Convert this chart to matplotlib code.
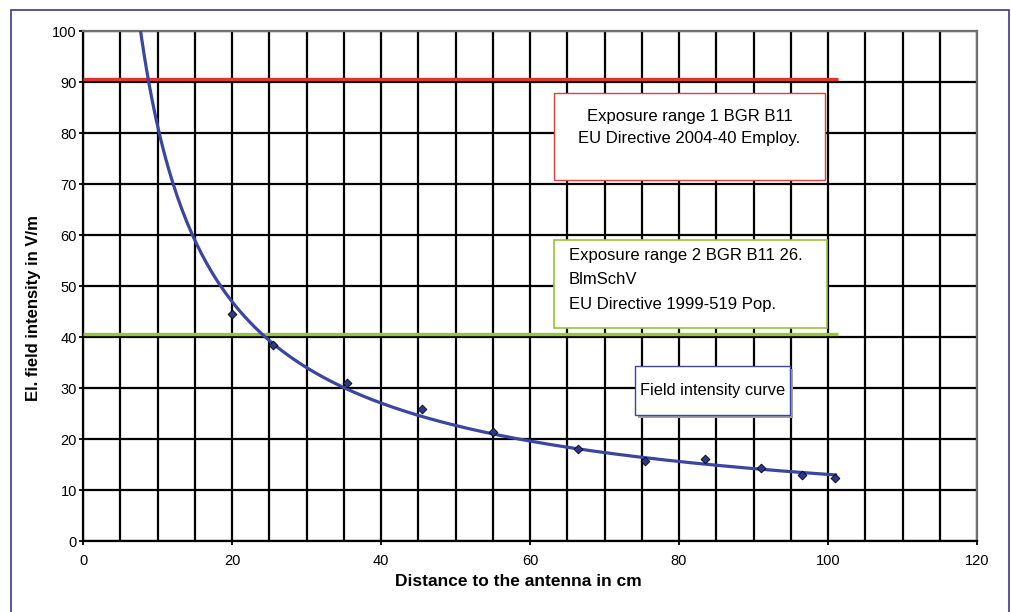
import matplotlib.pyplot as plt
import matplotlib.patches as mpatches
import numpy as np

plt.rcParams['font.family'] = ['Liberation Sans', 'DejaVu Sans']

# measured field intensity
distance_cm = [20, 25.5, 35.5, 45.5, 55, 66.5, 75.5, 83.5, 91, 96.5, 101]
field_vm = [44.5, 38.5, 31, 25.8, 21.3, 18, 15.7, 16, 14.3, 13, 12.3]

limit_1 = 90.5
limit_2 = 40.5
limit_end = 101.3

label_1 = "Exposure range 1 BGR B11\nEU Directive 2004-40 Employ."
label_2 = "Exposure range 2 BGR B11 26.\nBlmSchV\nEU Directive 1999-519 Pop."
label_curve = "Field intensity curve"

fig = plt.figure(figsize=(10.11, 6.12), dpi=100)
ax = fig.add_axes([0.0821, 0.1160, 0.8843, 0.8333])

# outer frame
fig.patches.append(mpatches.Rectangle((0.0109, -0.05), 0.9871, 1.0337,
                                      transform=fig.transFigure, fill=False,
                                      edgecolor='#3d3590', linewidth=1.2))

ax.set_xlim(0, 120)
ax.set_ylim(0, 100)
ax.set_xticks(np.arange(0, 121, 20))
ax.set_xticks(np.arange(0, 121, 5), minor=True)
ax.set_yticks(np.arange(0, 101, 10))
ax.tick_params(axis='x', which='minor', length=0)
ax.tick_params(axis='both', which='major', labelsize=10.5, length=3, width=1.3,
               direction='out')
ax.tick_params(axis='x', which='major', pad=6.5)
ax.tick_params(axis='y', which='major', pad=1.5)
ax.grid(True, which='major', axis='y', color='black', linewidth=1.6)
ax.grid(True, which='both', axis='x', color='black', linewidth=1.6)
ax.set_axisbelow(True)
for s in ['top', 'right']:
    ax.spines[s].set_color('#707070')
    ax.spines[s].set_linewidth(1.6)
for s in ['left', 'bottom']:
    ax.spines[s].set_linewidth(1.6)

# power trendline fitted to the measurements
b, loga = np.polyfit(np.log(distance_cm), np.log(field_vm), 1)
xs = np.linspace(5, distance_cm[-1], 300)
ax.plot(xs, np.exp(loga) * xs ** b, color='#3a46a0', linewidth=2.3, zorder=4)
ax.scatter(distance_cm, field_vm, marker='D', s=20, color='#2a3a8a',
           edgecolor='black', linewidth=0.6, zorder=5)

ax.hlines(limit_1, 0, limit_end, color='#e0342c', linewidth=2.4, zorder=3)
ax.hlines(limit_2, 0, limit_end, color='#9ac43a', linewidth=2.4, zorder=3)

# annotation boxes
ax.add_patch(mpatches.Rectangle((63.2, 70.8), 36.4, 17.0, facecolor='white',
                                edgecolor='#e04040', linewidth=1.0, zorder=6))
ax.text(81.4, 81.0, label_1, ha='center', va='center', fontsize=12,
        linespacing=1.58, zorder=7)

ax.add_patch(mpatches.Rectangle((63.2, 41.8), 36.7, 17.2, facecolor='white',
                                edgecolor='#9ac43a', linewidth=1.2, zorder=6))
ax.text(65.2, 51.2, label_2, ha='left', va='center', fontsize=12,
        linespacing=1.8, zorder=7)

ax.add_patch(mpatches.Rectangle((74.5, 24.1), 20.8, 9.6, facecolor='#a0a0a0',
                                edgecolor='none', zorder=6))
ax.add_patch(mpatches.Rectangle((74.1, 24.7), 20.8, 9.6, facecolor='white',
                                edgecolor='#3a46a0', linewidth=1.0, zorder=6))
ax.text(84.5, 29.6, label_curve, ha='center', va='center', fontsize=11.8,
        zorder=7)

ax.set_xlabel('Distance to the antenna in cm', fontsize=12.5, fontweight='bold')
ax.set_ylabel('El. field intensity in V/m', fontsize=12, fontweight='bold')
ax.xaxis.set_label_coords(0.4866, -0.0647)
ax.yaxis.set_label_coords(-0.047, 0.457)

fig.savefig('out.png', dpi=100)
